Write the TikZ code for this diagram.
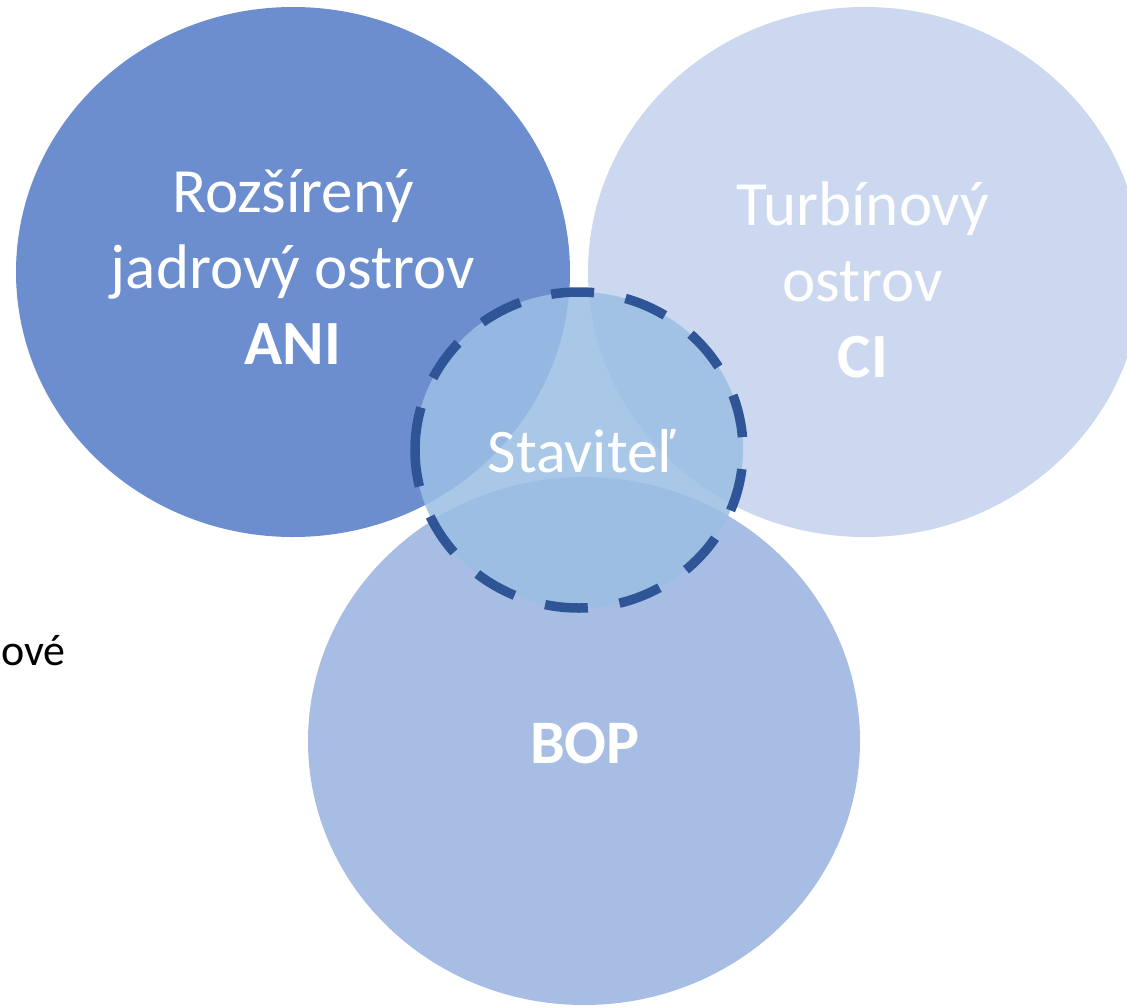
\documentclass[tikz,border=0pt]{standalone}
\usepackage{fontspec}
\setmainfont{Carlito}
\begin{document}
\begin{tikzpicture}[x=1pt,y=-1pt]
\definecolor{aniC}{HTML}{6C8ECF}
\definecolor{ciC}{HTML}{CCD8F0}
\definecolor{bopC}{HTML}{A8BDE3}
\definecolor{stC}{HTML}{9BBFE4}
\definecolor{dashC}{HTML}{2F5597}
\tikzset{
  big/.style={text=white, align=center, inner sep=0pt, font=\fontsize{63}{76}\selectfont},
  mid/.style={text=white, align=center, inner sep=0pt, font=\fontsize{62}{72}\selectfont},
}
\useasboundingbox (0,0) rectangle (1127,1007);
\fill[aniC] (293,272) ellipse[x radius=277, y radius=265];
\fill[ciC] (865,272) ellipse[x radius=277, y radius=265];
\fill[bopC] (584,741) ellipse[x radius=276, y radius=264];
\fill[stC, fill opacity=0.86] (579,450) ellipse[x radius=164, y radius=158];
\draw[dashC, line width=9.5pt, dash pattern=on 43pt off 32pt]
  (415,450) arc[start angle=180, end angle=540, x radius=164, y radius=158];
\node[big, anchor=base] (ani) at (293,364) {Rozšírený\\jadrový ostrov\\\textbf{ANI}};
\node[big, anchor=base] (ci) at (863,377) {Turbínový\\ostrov\\\textbf{CI}};
\node[mid, anchor=base] (st) at (581,472) {Staviteľ};
\node[mid, anchor=base, font=\fontsize{62}{72}\selectfont\bfseries] (bop) at (585,763) {BOP};
\node[anchor=base west, inner sep=0pt, font=\fontsize{44}{52}\selectfont] (ove) at (1,665) {ové};
\end{tikzpicture}
\end{document}
